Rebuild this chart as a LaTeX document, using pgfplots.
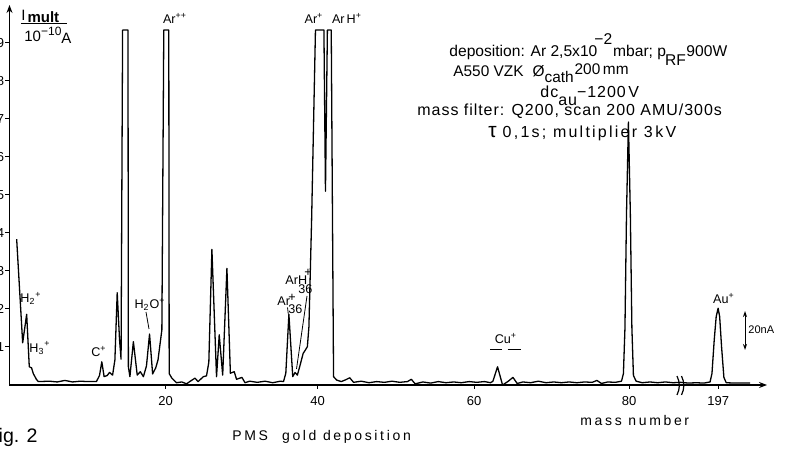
\documentclass[border=0pt]{standalone}
\usepackage{pgfplots}
\pgfplotsset{compat=1.18}
\usepackage{fontspec}
\setmainfont{Liberation Sans}
\newfontfamily\spaced[LetterSpace=6]{Liberation Sans}
\newfontfamily\spacedb[LetterSpace=14]{Liberation Sans}
\newfontfamily\wide[LetterSpace=19]{Liberation Sans}
\usetikzlibrary{arrows.meta}
\pgfplotstableread{
x y
0.74 3.84
1.52 1.11
2.04 1.86
2.38 0.48
2.68 0.45
2.9 0.3
3.3 0.15
3.55 0.09
5 0.1
6 0.08
7 0.12
8 0.08
9 0.1
10 0.09
11.1 0.09
11.5 0.25
11.8 0.61
12.1 0.22
12.5 0.25
12.8 0.33
13.2 0.26
13.5 0.66
13.8 2.43
14.1 1.2
14.3 0.68
14.5 9.34
15.2 9.34
15.25 0.48
15.45 0.22
15.9 1.14
16.4 0.26
16.8 0.35
17.2 0.22
17.6 0.5
18.0 1.34
18.4 0.29
18.8 0.45
19.1 0.66
19.6 1.45
19.85 9.34
20.5 9.34
20.55 0.3
20.9 0.18
21.5 0.06
22.2 0.08
22.8 0.03
23.3 0.1
23.9 0.18
24.3 0.09
25.0 0.22
25.4 0.24
25.7 0.6
26.1 3.57
26.7 0.22
27.05 1.32
27.5 0.26
28.05 3.07
28.5 0.31
29.0 0.35
29.3 0.15
30.0 0.2
30.4 0.06
31 0.1
32 0.07
33 0.1
34 0.06
35 0.1
35.4 0.09
35.7 0.31
36.1 1.86
36.6 0.22
36.9 0.33
37.2 0.26
37.5 0.48
37.95 0.83
38.3 0.94
38.5 1.01
38.7 1.53
39.05 4.34
39.55 9.34
40.65 9.34
40.85 5.1
41.1 9.34
41.6 9.34
41.9 0.22
42.3 0.13
42.9 0.09
43.4 0.13
44.0 0.19
44.5 0.07
45.5 0.1
46.5 0.06
47.5 0.09
48.5 0.07
49.5 0.1
50.5 0.07
51.5 0.09
52.0 0.15
52.5 0.03
53.5 0.08
54.5 0.05
55.5 0.09
56.5 0.06
57.5 0.08
58.5 0.06
59.5 0.09
60.5 0.07
61.5 0.09
62.3 0.06
62.6 0.1
63.2 0.48
63.85 0.0
64.6 0.1
65.2 0.2
65.75 0.04
66.5 0.08
67.5 0.06
68.5 0.1
69.5 0.06
70.5 0.08
71.5 0.06
72.5 0.08
73.5 0.06
74.5 0.08
75.5 0.07
76.1 0.12
76.7 0.04
77.5 0.08
78.5 0.07
79.3 0.1
79.55 0.3
79.75 1.5
79.95 4.5
80.2 6.92
80.45 4.5
80.65 1.5
80.85 0.25
81.2 0.1
82 0.06
83 0.08
84 0.06
85 0.08
86 0.06
87 0.07
88 0.05
89 0.06
90 0.05
90.8 0.08
91.05 0.3
91.35 1.2
91.6 1.8
91.85 2.02
92.05 1.8
92.3 1.0
92.6 0.2
92.9 0.06
94 0.05
95 0.05
96 0.05
}\spectrum
\begin{document}
\begin{tikzpicture}
\useasboundingbox (-4.75pt,-32pt) rectangle (388.75pt,192.5pt);
\begin{axis}[
  scale only axis, width=378.75pt, height=190pt,
  xmin=-0.19, xmax=98.2, ymin=0, ymax=10,
  axis lines=left,
  axis line style={line width=0.6pt, -{Stealth[length=4pt,width=3pt]}},
  xtick={20.09,39.83,60.17,80.30,91.86}, xticklabels={20,40,60,80,197},
  ytick={1,2,3,4,5,6,7,8,9},
  tick align=outside, major tick length=2pt,
  tick style={line width=0.5pt, black},
  ticklabel style={font=\fontsize{6.5}{7}\selectfont},
  yticklabel style={inner sep=0.5pt},
  /pgf/number format/assume math mode=true,
  clip=false,
]
\addplot[black, line width=0.65pt, line join=round] table[x=x,y=y] {\spectrum};
\end{axis}
\begin{scope}[x=0.5pt,y=-0.5pt,shift={(-4.75pt,192.5pt)}]
% break marks
\draw[line width=0.6pt] (677,376) to[bend left=25] (677,395);
\draw[line width=0.6pt] (681.5,376) to[bend left=25] (681.5,395);
% y label
\node[anchor=base west, inner sep=0pt, font=\fontsize{7.5}{8}\selectfont] at (21,21) {I\kern1pt\raisebox{-1pt}{\textbf{mult}}};
\draw[line width=0.6pt] (21,23.5) -- (67,23.5);
\node[anchor=base west, inner sep=0pt, font=\fontsize{7.5}{8}\selectfont] at (24,42) {10\raisebox{3pt}{\fontsize{6}{6}\selectfont −10}\raisebox{-1pt}{A}};
% peak labels
\begin{scope}[every node/.style={inner sep=0pt, font=\fontsize{6.3}{7}\selectfont}]
\node at (175,18) {Ar\textsuperscript{++}};
\node at (314,18) {Ar\textsuperscript{+}};
\node at (347,18) {Ar\,H\textsuperscript{+}};
\node at (31,298) {H\textsubscript{2}\textsuperscript{+}};
\node at (40,348) {H\textsubscript{3}\textsuperscript{+}};
\node at (99,352) {C\textsuperscript{+}};
\node at (150,304) {H\textsubscript{2}O\textsuperscript{+}};
\draw[line width=0.4pt] (146,312) -- (149,329);
\node[anchor=base west] at (285,285) {ArH};
\node[anchor=base west] at (298,294) {36};
\node at (308,273) {+};
\draw[line width=0.4pt] (307,296) -- (296.5,369);
\node[anchor=base west] at (277,306) {Ar};
\node at (292,298) {+};
\node[anchor=base west] at (288,314) {36};
\draw[line width=0.4pt] (287.5,307.5) -- (288.3,314);
\node at (506,339) {Cu\textsuperscript{+}};
\draw[line width=0.5pt] (490,349.5) -- (502,349.5);
\draw[line width=0.5pt] (507.5,349.5) -- (521,349.5);
\node at (724,299) {Au\textsuperscript{+}};
\draw[line width=0.5pt, {Stealth[length=3pt,width=2pt]}-{Stealth[length=3pt,width=2pt]}] (745,311) -- (745,350);
\node[anchor=west, font=\fontsize{5.5}{6}\selectfont] at (748,330) {20nA};
\end{scope}
% parameter block
\begin{scope}[every node/.style={inner sep=0pt, anchor=base west}]
\node[font=\fontsize{7.8}{9}\selectfont] at (449,57) {deposition: Ar 2,5x10\kern-1.5pt\raisebox{6pt}{−2}\kern0.5pt mbar; p\kern-0.5pt\raisebox{-4.5pt}{RF}\kern0.3pt 900W};
\node[font=\fontsize{7.7}{9}\selectfont] at (453,77) {A550 VZK\hspace{4.5pt}Ø\raisebox{-3pt}{cath}\kern0.5pt\raisebox{1pt}{200\,mm}};
\node[font=\fontsize{8}{9}\spaced] at (540,98) {dc\raisebox{-4pt}{au}−1200\,V};
\node[font=\fontsize{8}{9}\spaced] at (417,116) {mass filter: Q200, scan 200 AMU/300s};
\node[font=\fontsize{8}{9}\spacedb] at (488,138) {{\fontsize{10.5}{10}\selectfont τ}\hspace{3pt}0,1s; multiplier 3\,kV};
\end{scope}
% bottom captions
\node[anchor=base east, inner sep=0pt, font=\fontsize{9.8}{10}\selectfont] at (38,443) {Fig. 2};
\node[anchor=base west, inner sep=0pt, font=\fontsize{7}{8}\wide] at (232,441) {PMS\quad gold deposition};
\node[anchor=base west, inner sep=0pt, font=\fontsize{7}{8}\wide] at (580,426) {mass number};
\end{scope}
\end{tikzpicture}
\end{document}
